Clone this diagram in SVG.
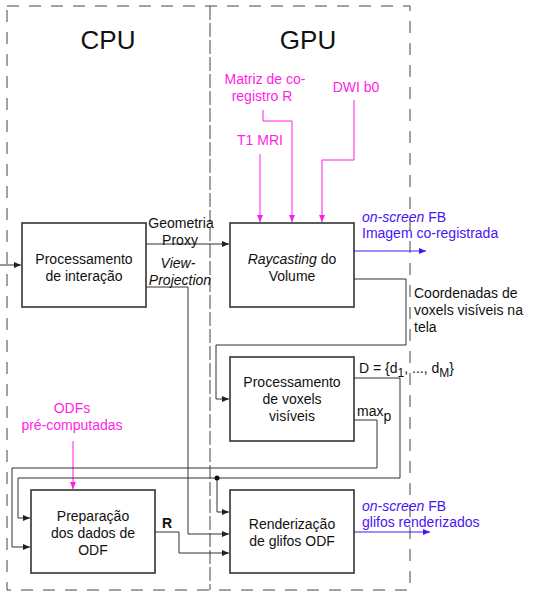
<svg xmlns="http://www.w3.org/2000/svg" width="534" height="605" viewBox="0 0 534 605">
<defs>
<marker id="ak" markerWidth="7" markerHeight="6" refX="7" refY="3" orient="auto" markerUnits="userSpaceOnUse"><path d="M0,0 L7,3 L0,6 Z" fill="#222"/></marker>
<marker id="am" markerWidth="7" markerHeight="6" refX="7" refY="3" orient="auto" markerUnits="userSpaceOnUse"><path d="M0,0 L7,3 L0,6 Z" fill="#ff1ee6"/></marker>
<marker id="ab" markerWidth="7" markerHeight="6" refX="7" refY="3" orient="auto" markerUnits="userSpaceOnUse"><path d="M0,0 L7,3 L0,6 Z" fill="#4a14f5"/></marker>
</defs>
<style>
text{font-family:"Liberation Sans",Arial,sans-serif;font-size:14px;fill:#111}
.c{text-anchor:middle}
.box{fill:#fff;stroke:#333;stroke-width:1.6}
.dash{fill:none;stroke:#444;stroke-width:1;stroke-dasharray:12 10}
.dmid{fill:none;stroke:#444;stroke-width:1;stroke-dasharray:14 3}
.ln{fill:none;stroke:#333;stroke-width:1;marker-end:url(#ak)}
.lnn{fill:none;stroke:#333;stroke-width:1}
.mg{fill:none;stroke:#ff1ee6;stroke-width:1;marker-end:url(#am)}
.bl{fill:none;stroke:#4a14f5;stroke-width:1;marker-end:url(#ab)}
.tm{fill:#ff1ee6}
.tb{fill:#4a14f5}
.big{font-size:26px}
</style>
<g id="regions">
<rect class="dash" x="7" y="6" width="403" height="584"/>
<line class="dmid" x1="210" y1="6" x2="210" y2="590"/>
<text class="c big" x="108" y="49">CPU</text>
<text class="c big" x="308" y="49">GPU</text>
</g>
<g id="connectors">
<path class="mg" d="M260,154 V222"/>
<path class="mg" d="M263,110 V121 H292 V222"/>
<path class="mg" d="M354,100 V160 H322 V222"/>
<path class="mg" d="M73,441 V489"/>
<path class="ln" d="M0,265 H21"/>
<path class="ln" d="M146,244 H229"/>
<path class="ln" d="M146,287 H188 V534 H229"/>
<path class="bl" d="M354,251 H426"/>
<path class="ln" d="M354,279 H406 V345 H216 V399 H229"/>
<path class="lnn" d="M354,378 H400 V478 H18"/>
<path class="ln" d="M18,478 V518 H30"/>
<path class="ln" d="M354,420 H377 V468 H12 V547 H30"/>
<path class="ln" d="M217,478 V512 H229"/>
<circle cx="217" cy="478" r="2.5" fill="#111"/>
<path class="ln" d="M155,532 H179 V553 H229"/>
<path class="bl" d="M354,532 H430"/>
</g>
<g id="labels">
<text class="c tm" x="265" y="84">Matriz de co-</text>
<text class="c tm" x="262" y="101">registro R</text>
<text class="c tm" x="260" y="145">T1 MRI</text>
<text class="c tm" x="356" y="92">DWI b0</text>
<text class="c" x="181" y="228">Geometria</text>
<text class="c" x="180" y="245">Proxy</text>
<text class="c" x="178" y="268" font-style="italic">View-</text>
<text class="c" x="180" y="285" font-style="italic">Projection</text>
<text class="tb" x="362" y="222"><tspan font-style="italic">on-screen</tspan> FB</text>
<text class="tb" x="362" y="238">Imagem co-registrada</text>
<text x="414" y="298">Coordenadas de</text>
<text x="414" y="315">voxels visíveis na</text>
<text x="414" y="332">tela</text>
<text x="359" y="373">D = {d<tspan font-size="12" dy="4">1</tspan><tspan dy="-4">, ..., d</tspan><tspan font-size="12" dy="4">M</tspan><tspan dy="-4">}</tspan></text>
<text x="357" y="416">max<tspan dy="5">p</tspan></text>
<text class="c tm" x="72" y="413">ODFs</text>
<text class="c tm" x="72" y="430">pré-computadas</text>
<text x="162" y="528" font-weight="bold">R</text>
<text class="tb" x="362" y="511"><tspan font-style="italic">on-screen</tspan> FB</text>
<text class="tb" x="362" y="527">glifos renderizados</text>
</g>
<g id="n-interacao">
<rect class="box" x="22" y="223" width="124" height="84"/>
<text class="c" x="84" y="264">Processamento</text>
<text class="c" x="84" y="281">de interação</text>
</g>
<g id="n-raycasting">
<rect class="box" x="230" y="223" width="124" height="84"/>
<text class="c" x="292" y="264"><tspan font-style="italic">Raycasting</tspan> do</text>
<text class="c" x="292" y="281">Volume</text>
</g>
<g id="n-voxels">
<rect class="box" x="230" y="357" width="124" height="84"/>
<text class="c" x="292" y="387">Processamento</text>
<text class="c" x="292" y="404">de voxels</text>
<text class="c" x="292" y="421">visíveis</text>
</g>
<g id="n-preparacao">
<rect class="box" x="31" y="490" width="124" height="83"/>
<text class="c" x="93" y="521">Preparação</text>
<text class="c" x="93" y="538">dos dados de</text>
<text class="c" x="93" y="555">ODF</text>
</g>
<g id="n-renderizacao">
<rect class="box" x="230" y="490" width="124" height="83"/>
<text class="c" x="292" y="529">Renderização</text>
<text class="c" x="292" y="546">de glifos ODF</text>
</g>
</svg>
